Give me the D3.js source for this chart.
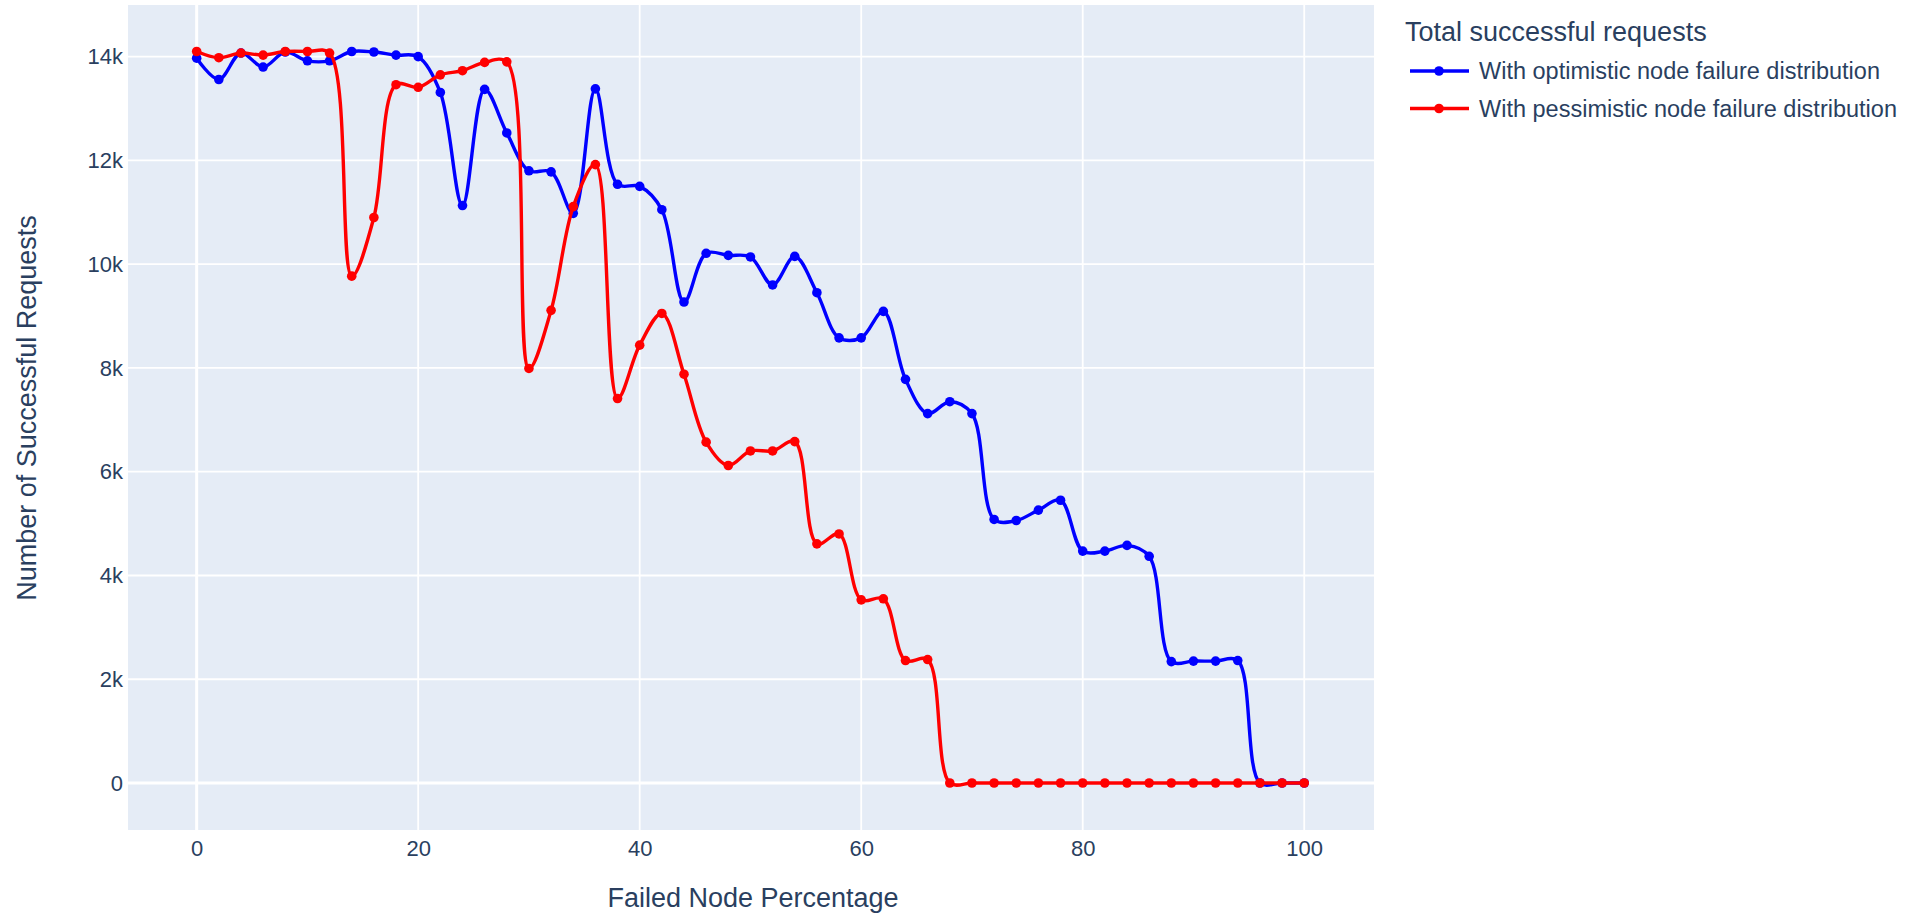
<!DOCTYPE html>
<html>
<head>
<meta charset="utf-8">
<script src="https://cdn.jsdelivr.net/npm/d3@7"></script>
<style>
  html, body { margin: 0; padding: 0; background: #fff; }
  svg { display: block; }
  text { font-family: "Liberation Sans", Arial, sans-serif; fill: #2a3f5f; }
</style>
</head>
<body>
<svg id="chart" width="1912" height="915"></svg>
<script>
// ---- data ----
const failedPct = [0,2,4,6,8,10,12,14,16,18,20,22,24,26,28,30,32,34,36,38,40,42,44,46,48,50,
                   52,54,56,58,60,62,64,66,68,70,72,74,76,78,80,82,84,86,88,90,92,94,96,98,100];
const optimistic = [13970,13560,14070,13800,14090,13920,13920,14100,14090,14030,14000,13310,11130,13370,12530,
                    11800,11780,10980,13380,11540,11500,11050,9270,10210,10170,10140,9600,10150,9450,8580,
                    8580,9090,7780,7120,7350,7120,5080,5060,5260,5450,4470,4470,4580,4370,2340,2350,2350,2360,0,0,0];
const pessimistic = [14100,13980,14070,14030,14100,14100,14070,9770,10900,13460,13410,13650,13730,13890,13900,
                     7990,9110,11110,11920,7410,8440,9050,7880,6570,6120,6400,6400,6580,4610,4800,3530,3550,
                     2360,2380,0,0,0,0,0,0,0,0,0,0,0,0,0,0,0,0,0];
const seriesNames = ["With optimistic node failure distribution", "With pessimistic node failure distribution"];
const seriesColors = ["#0000ff", "#ff0000"];
const xTicks = [0,20,40,60,80,100];
const yTicks = [0,2000,4000,6000,8000,10000,12000,14000];
const yTickLabels = ["0","2k","4k","6k","8k","10k","12k","14k"];
const legendTitle = "Total successful requests";
const xTitle = "Failed Node Percentage";
const yTitle = "Number of Successful Requests";

// ---- layout ----
const plot = { left: 128, right: 1374, top: 5, bottom: 830 };
const svg = d3.select("#chart");
svg.append("rect").attr("width", 1912).attr("height", 915).attr("fill", "#fff");

const x = d3.scaleLinear().domain([-6.2, 106.3]).range([plot.left, plot.right]);
const y = d3.scaleLinear().domain([-906, 14996]).range([plot.bottom, plot.top]);

svg.append("rect")
  .attr("x", plot.left).attr("y", plot.top)
  .attr("width", plot.right - plot.left).attr("height", plot.bottom - plot.top)
  .attr("fill", "#e5ecf6");

// grid
const grid = svg.append("g");
grid.selectAll(".vg").data(xTicks).join("line")
  .attr("x1", d => x(d)).attr("x2", d => x(d))
  .attr("y1", plot.top).attr("y2", plot.bottom)
  .attr("stroke", "#fff").attr("stroke-width", d => d === 0 ? 3 : 1.8);
grid.selectAll(".hg").data(yTicks).join("line")
  .attr("x1", plot.left).attr("x2", plot.right)
  .attr("y1", d => y(d)).attr("y2", d => y(d))
  .attr("stroke", "#fff").attr("stroke-width", d => d === 0 ? 3 : 1.8);

// axes (labels only)
const xAxis = d3.axisBottom(x).tickValues(xTicks).tickSize(0).tickPadding(10);
const gx = svg.append("g").attr("transform", `translate(0,${plot.bottom})`).call(xAxis);
gx.select(".domain").remove();
gx.selectAll("text").style("font-size", "22px").attr("fill", "#2a3f5f")
  .style("font-family", "'Liberation Sans', Arial, sans-serif");

const yAxis = d3.axisLeft(y).tickValues(yTicks).tickSize(0).tickPadding(5)
  .tickFormat((d, i) => yTickLabels[i]);
const gy = svg.append("g").attr("transform", `translate(${plot.left},0)`).call(yAxis);
gy.select(".domain").remove();
gy.selectAll("text").style("font-size", "22px").attr("fill", "#2a3f5f")
  .style("font-family", "'Liberation Sans', Arial, sans-serif");

// axis titles
svg.append("text").attr("x", 753).attr("y", 907)
  .attr("text-anchor", "middle").style("font-size", "27px").text(xTitle);
svg.append("text").attr("transform", `translate(36,408) rotate(-90)`)
  .attr("text-anchor", "middle").style("font-size", "27px").text(yTitle);

// series
const series = [optimistic, pessimistic];
const line = d3.line().x(d => x(d[0])).y(d => y(d[1])).curve(d3.curveCatmullRom.alpha(0.5));
svg.append("clipPath").attr("id", "clip").append("rect")
  .attr("x", plot.left).attr("y", plot.top)
  .attr("width", plot.right - plot.left).attr("height", plot.bottom - plot.top);
series.forEach((vals, si) => {
  const pts = failedPct.map((p, i) => [p, vals[i]]);
  const g = svg.append("g").attr("clip-path", "url(#clip)");
  g.append("path").datum(pts).attr("d", line)
    .attr("fill", "none").attr("stroke", seriesColors[si]).attr("stroke-width", 3.4)
    .attr("stroke-linejoin", "round");
  g.selectAll("circle").data(pts).join("circle")
    .attr("cx", d => x(d[0])).attr("cy", d => y(d[1])).attr("r", 4.8)
    .attr("fill", seriesColors[si]);
});

// legend
const lg = svg.append("g");
lg.append("text").attr("x", 1405).attr("y", 41).style("font-size", "27px").text(legendTitle);
seriesNames.forEach((name, i) => {
  const cy = 71 + i * 37.5;
  lg.append("line").attr("x1", 1410).attr("x2", 1469).attr("y1", cy).attr("y2", cy)
    .attr("stroke", seriesColors[i]).attr("stroke-width", 3.4);
  lg.append("circle").attr("cx", 1439).attr("cy", cy).attr("r", 4.8).attr("fill", seriesColors[i]);
  lg.append("text").attr("x", 1479).attr("y", cy).attr("dy", "0.35em")
    .style("font-size", "23.5px").text(name);
});
</script>
</body>
</html>
